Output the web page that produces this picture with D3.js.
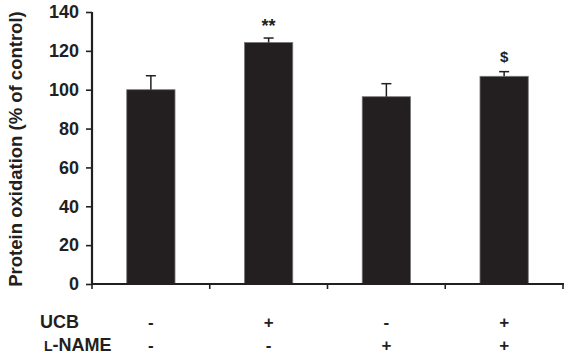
<!DOCTYPE html>
<html>
<head>
<meta charset="utf-8">
<script src="https://cdn.jsdelivr.net/npm/d3@7"></script>
<style>
  body { margin: 0; background: #fff; }
  text { font-family: Arial, "Liberation Sans", sans-serif; font-weight: bold; fill: #231f20; }
</style>
</head>
<body>
<svg id="chart" width="570" height="356"></svg>
<script>
var groups = ["g1", "g2", "g3", "g4"];
var means = [100, 124.3, 96.4, 106.9];
var errs = [7.2, 2.3, 6.7, 2.4];
var marks = ["", "**", "", "$"];
var ucb = ["-", "+", "-", "+"];
var lname = ["-", "-", "+", "+"];
var yTicks = [0, 20, 40, 60, 80, 100, 120, 140];

var svg = d3.select("#chart");
var mLeft = 92, mRight = 563, mTop = 12, mBottom = 284;

var x = d3.scaleBand()
  .domain(groups)
  .range([mLeft, mRight])
  .paddingInner(0.59)
  .paddingOuter(0.295);

var xg = d3.scaleBand().domain(groups).range([mLeft, mRight]);

var y = d3.scaleLinear()
  .domain([0, 140])
  .range([mBottom, mTop]);

var col = "#231f20";

// bars
svg.selectAll("rect.bar")
  .data(groups)
  .enter().append("rect")
  .attr("class", "bar")
  .attr("x", function(d) { return x(d); })
  .attr("y", function(d, i) { return y(means[i]); })
  .attr("width", x.bandwidth())
  .attr("height", function(d, i) { return y(0) - y(means[i]); })
  .attr("fill", col)
  .attr("stroke", "#777")
  .attr("stroke-width", 0.8);

// error bars
groups.forEach(function(g, i) {
  var cx = x(g) + x.bandwidth() / 2;
  svg.append("line")
    .attr("x1", cx).attr("x2", cx)
    .attr("y1", y(means[i])).attr("y2", y(means[i] + errs[i]))
    .attr("stroke", col).attr("stroke-width", 1.5);
  svg.append("line")
    .attr("x1", cx - 5).attr("x2", cx + 5)
    .attr("y1", y(means[i] + errs[i])).attr("y2", y(means[i] + errs[i]))
    .attr("stroke", col).attr("stroke-width", 1.5);
  if (marks[i]) {
    svg.append("text")
      .text(marks[i])
      .attr("x", cx)
      .attr("y", marks[i] == "$" ? y(means[i] + errs[i]) - 10 : y(means[i] + errs[i]) - 6)
      .attr("text-anchor", "middle")
      .style("font-size", marks[i] == "$" ? "15px" : "18px");
  }
});

// y axis
var yAxis = d3.axisLeft(y).tickValues(yTicks).tickSize(6).tickPadding(7);
var ya = svg.append("g")
  .attr("transform", "translate(" + mLeft + ",0)")
  .call(yAxis);
ya.select(".domain").attr("stroke", col).attr("stroke-width", 2.2).attr("d", "M0," + (mBottom + 1) + "V" + mTop);
ya.selectAll(".tick line").attr("stroke", col).attr("stroke-width", 1.6);
ya.selectAll(".tick text").style("font-size", "18px").style("font-family", "Arial, 'Liberation Sans', sans-serif").style("font-weight", "bold").attr("fill", col);

// x axis line + ticks at group boundaries
svg.append("line")
  .attr("x1", mLeft).attr("x2", mRight + 1)
  .attr("y1", mBottom).attr("y2", mBottom)
  .attr("stroke", col).attr("stroke-width", 2.2);
var bounds = groups.map(function(g) { return xg(g); }).concat([mRight]);
svg.selectAll("line.xt")
  .data(bounds)
  .enter().append("line")
  .attr("class", "xt")
  .attr("x1", function(d) { return d; }).attr("x2", function(d) { return d; })
  .attr("y1", mBottom).attr("y2", mBottom + 5)
  .attr("stroke", col).attr("stroke-width", 1.6);

// y axis title
svg.append("text")
  .text("Protein oxidation (% of control)")
  .attr("transform", "translate(22,149) rotate(-90)")
  .attr("text-anchor", "middle")
  .style("font-size", "18.5px");

// row labels
svg.append("text").text("UCB")
  .attr("x", 40).attr("y", 328)
  .style("font-size", "18px");
var ln = svg.append("text").attr("x", 44).attr("y", 351).style("font-size", "18px");
ln.append("tspan").text("L").style("font-size", "14px");
ln.append("tspan").text("-NAME");

svg.selectAll("text.ucb")
  .data(ucb)
  .enter().append("text")
  .attr("class", "ucb")
  .text(function(d) { return d; })
  .attr("x", function(d, i) { return xg(groups[i]) + xg.bandwidth() / 2; })
  .attr("y", 328)
  .attr("text-anchor", "middle")
  .style("font-size", "17px");

svg.selectAll("text.ln")
  .data(lname)
  .enter().append("text")
  .attr("class", "ln")
  .text(function(d) { return d; })
  .attr("x", function(d, i) { return xg(groups[i]) + xg.bandwidth() / 2; })
  .attr("y", 351)
  .attr("text-anchor", "middle")
  .style("font-size", "17px");
</script>
</body>
</html>
